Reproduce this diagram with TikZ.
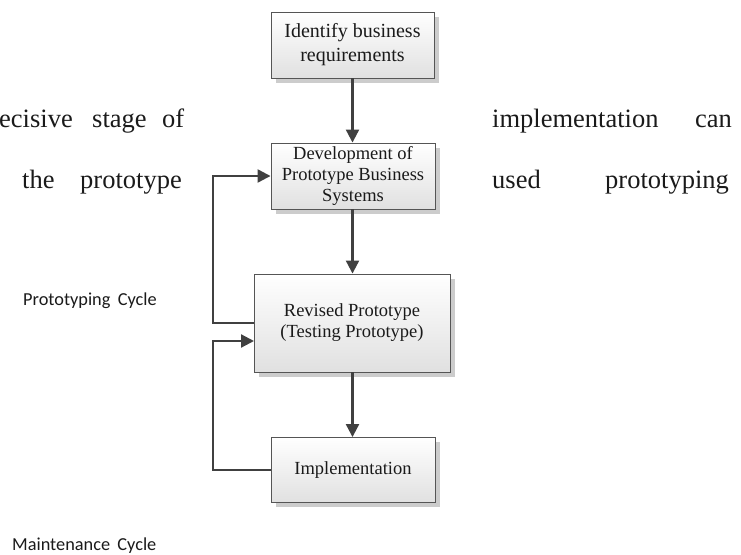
\documentclass[tikz,border=0pt]{standalone}
\usepackage{fontspec}
\setmainfont{Liberation Serif}
\newfontfamily\calfont{Carlito}
\usetikzlibrary{arrows.meta,shadows}
\definecolor{linec}{HTML}{404040}
\definecolor{boxline}{HTML}{555555}
\definecolor{shadowc}{HTML}{CCCCCC}
\definecolor{txt}{HTML}{1A1A1A}
\tikzset{
  procbox/.style={draw=boxline, line width=0.9pt, rectangle, top color=white, bottom color=black!12,
    align=center, text=txt, inner sep=0pt,
    drop shadow={shadow xshift=4.5pt, shadow yshift=-4.5pt, fill=shadowc, opacity=1}},
  arr/.style={draw=linec, line width=2.2pt, -{Triangle[width=13pt,length=13pt]}},
  body/.style={font=\fontsize{26.5}{30}\selectfont, text=txt, anchor=base west, inner sep=0pt},
  cyc/.style={font=\calfont\fontsize{18.3}{20}\selectfont, text=txt, anchor=base west, inner sep=0pt}
}
\begin{document}
\begin{tikzpicture}[x=1pt,y=-1pt]
\useasboundingbox (0,0) rectangle (741,554);
% boxes
\node[procbox, minimum width=163pt, minimum height=66pt, font=\fontsize{20}{24}\selectfont] (b1) at (352.5,45) {Identify business\\requirements};
\node[procbox, minimum width=164pt, minimum height=66pt, font=\fontsize{18.5}{21}\selectfont] (b2) at (353,176) {Development of\\Prototype Business\\Systems};
\node[procbox, minimum width=196pt, minimum height=98pt, font=\fontsize{18.5}{21}\selectfont] (b3) at (352,323) {Revised Prototype\\(Testing Prototype)};
\node[procbox, minimum width=164pt, minimum height=65pt, font=\fontsize{18.5}{21}\selectfont] (b4) at (353,470) {Implementation};
% main arrows
\draw[arr] (b1.south -| 352.5,0) -- (b2.north -| 352.5,0);
\draw[arr] (b2.south -| 352.5,0) -- (b3.north -| 352.5,0);
\draw[arr] (b3.south -| 352.5,0) -- (b4.north -| 352.5,0);
% loops
\coordinate (l1) at (213,323);
\draw[arr] (b3.west) -- (l1) |- (b2.west);
\coordinate (l2) at (213,470);
\coordinate (m3) at (254,341);
\draw[arr] (b4.west) -- (l2) |- (m3);
% body text words
\node[body] (w1) at (-1,127) {ecisive};
\node[body] (w2) at (92,127) {stage};
\node[body] (w3) at (162,127) {of};
\node[body] (w4) at (22,188) {the};
\node[body] (w5) at (80,188) {prototype};
\node[body] (w6) at (492,127) {implementation};
\node[body] (w7) at (695,127) {can};
\node[body] (w8) at (492,188) {used};
\node[body] (w9) at (605,188) {prototyping};
% cycle labels
\node[cyc] (c1) at (23,305) {Prototyping\hspace{0.4em}Cycle};
\node[cyc] (c2) at (12,550) {Maintenance\hspace{0.4em}Cycle};
\end{tikzpicture}
\end{document}
